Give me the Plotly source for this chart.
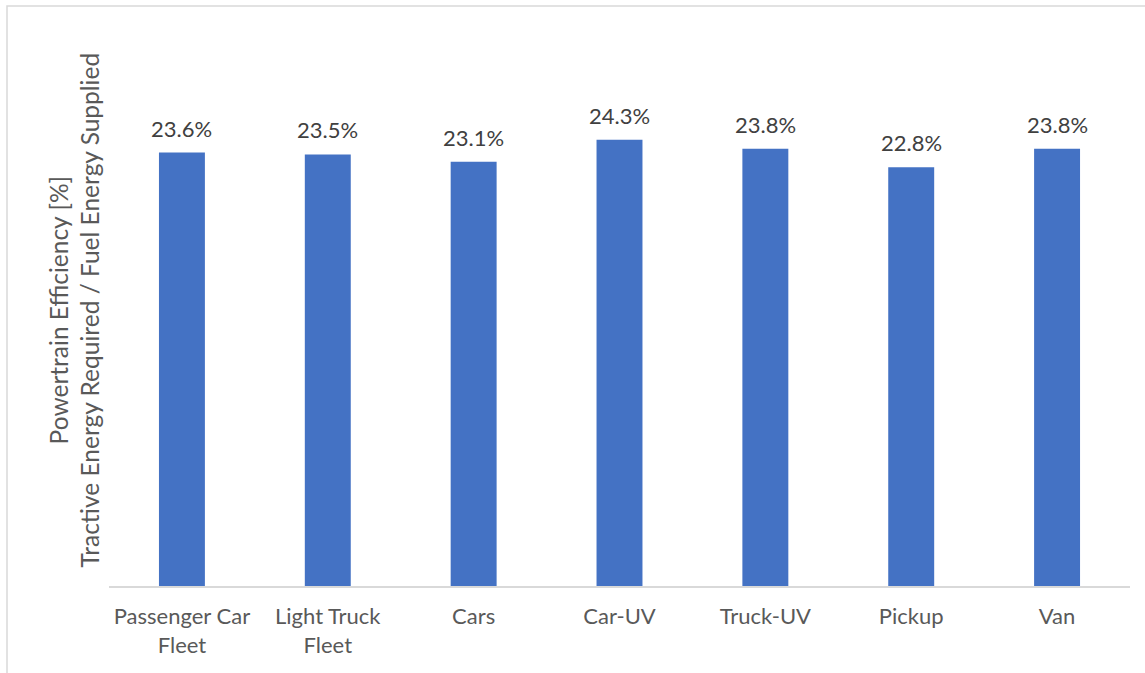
import plotly.graph_objects as go

categories = ["Passenger Car<br>Fleet", "Light Truck<br>Fleet", "Cars", "Car-UV", "Truck-UV", "Pickup", "Van"]
values = [23.6, 23.5, 23.1, 24.3, 23.8, 22.8, 23.8]
labels = ["23.6%", "23.5%", "23.1%", "24.3%", "23.8%", "22.8%", "23.8%"]

W, H = 1145, 673
L, R, T, B = 109, 15, 35, 87
pw, ph = W - L - R, H - T - B

fig = go.Figure(go.Bar(
    x=categories, y=values,
    marker=dict(color="#4472C4", line=dict(width=0)),
    width=0.315, cliponaxis=False, hoverinfo="x+y",
))

annotations = [dict(x=c, y=v, text=t, xref="x", yref="y", showarrow=False,
                    yanchor="bottom", xanchor="center", yshift=9,
                    font=dict(size=22, color="#404040"))
               for c, v, t in zip(categories, values, labels)]

annotations.append(dict(text="Powertrain Efficiency [%]<br>Tractive Energy Required / Fuel Energy Supplied",
                        textangle=-90, xref="paper", yref="paper",
                        x=(74 - L) / pw, y=0.5, showarrow=False,
                        xanchor="center", yanchor="middle",
                        font=dict(size=24.5, color="#595959")))

fig.update_layout(
    width=W, height=H,
    margin=dict(l=L, r=R, t=T, b=B),
    paper_bgcolor="white", plot_bgcolor="white",
    font=dict(family="Lato, Open Sans, sans-serif", color="#595959", size=22),
    showlegend=False,
    xaxis=dict(showline=True, linecolor="#d9d9d9", linewidth=1.5, ticks="",
               tickfont=dict(size=22, color="#595959"), showgrid=False,
               ticklabelstandoff=10),
    yaxis=dict(range=[0, 30], visible=False, showgrid=False),
    shapes=[dict(type="rect", xref="paper", yref="paper",
                 x0=(7 - L) / pw, x1=(W + 10 - L) / pw,
                 y0=-(H + 10 - (T + ph)) / ph, y1=1 + (T - 6) / ph,
                 line=dict(color="#d9d9d9", width=1.5), fillcolor="rgba(0,0,0,0)")],
    annotations=annotations,
)

fig.write_html("out.html", config={"displayModeBar": False},
               post_script="document.body.style.margin='0';")
